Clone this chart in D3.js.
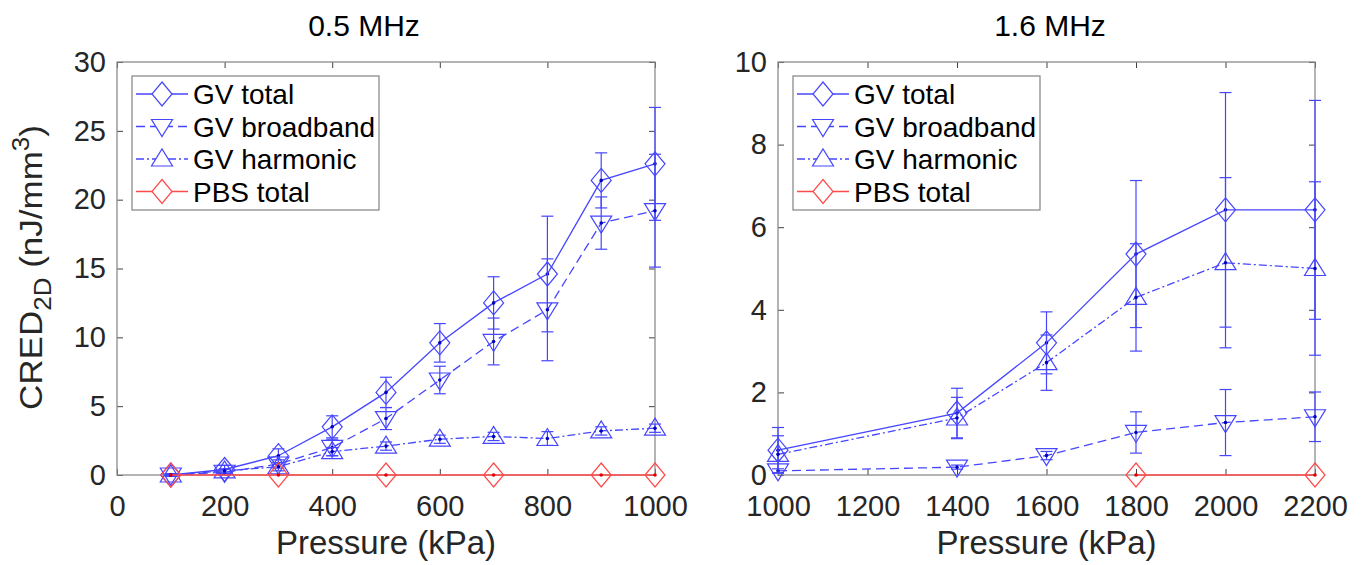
<!DOCTYPE html>
<html>
<head>
<meta charset="utf-8">
<script src="https://cdn.jsdelivr.net/npm/d3@7"></script>
<style>
  body { margin: 0; background: #fff; }
  svg text { font-family: "Liberation Sans", Arial, sans-serif; }
</style>
</head>
<body>
<div class="canvas"></div>
<script>
// data
const pressure05 = [100, 200, 300, 400, 500, 600, 700, 800, 900, 1000];
const total05 = [0, 0.4, 1.4, 3.5, 6.0, 9.6, 12.5, 14.6, 21.4, 22.6];
const total05Err = [0.1, 0.3, 0.5, 0.8, 1.1, 1.4, 1.9, 4.2, 2.0, 4.1];
const broad05 = [0, 0.2, 0.8, 2.0, 4.1, 6.9, 9.7, 12.0, 18.3, 19.2];
const broad05Err = [0.05, 0.2, 0.3, 0.6, 0.8, 1.0, 1.7, 3.7, 1.9, 4.1];
const harm05 = [0, 0.3, 0.6, 1.7, 2.1, 2.6, 2.8, 2.65, 3.2, 3.4];
const harm05Err = [0.05, 0.15, 0.3, 0.3, 0.3, 0.3, 0.3, 0.5, 0.3, 0.3];
const pbsP05 = [100, 300, 500, 700, 900, 1000];
const pbs05 = [0, 0, 0, 0, 0, 0];

const pressure16 = [1000, 1400, 1600, 1800, 2000, 2200];
const total16 = [0.6, 1.5, 3.2, 5.35, 6.42, 6.42];
const total16Err = [0.55, 0.6, 0.75, 1.78, 2.84, 2.65];
const broad16 = [0.1, 0.19, 0.47, 1.03, 1.27, 1.41];
const broad16Err = [0.05, 0.05, 0.1, 0.5, 0.8, 0.6];
const harm16 = [0.5, 1.38, 2.72, 4.3, 5.14, 5.0];
const harm16Err = [0.45, 0.5, 0.67, 1.3, 2.06, 2.1];
const pbsP16 = [1800, 2200];
const pbs16 = [0, 0];

const xTicks05 = [0, 200, 400, 600, 800, 1000];
const yTicks05 = [0, 5, 10, 15, 20, 25, 30];
const xTicks16 = [1000, 1200, 1400, 1600, 1800, 2000, 2200];
const yTicks16 = [0, 2, 4, 6, 8, 10];

const seriesNames = ['GV total', 'GV broadband', 'GV harmonic', 'PBS total'];

const blue = '#4646ff';
const red = '#ff4a4a';
const styles = [
  {color: blue, dash: null, marker: 'diamond', dot: '#0000c0'},
  {color: blue, dash: '9,5', marker: 'down', dot: '#0000c0'},
  {color: blue, dash: '8,3,2,3', marker: 'up', dot: '#0000c0'},
  {color: red, dash: null, marker: 'diamond', dot: '#e00000'}
];

const svg = d3.select('.canvas')
  .append('svg')
    .attr('width', 1364)
    .attr('height', 565);

// marker shapes, centred on the point
function markerPath(type) {
  if (type === 'diamond') return 'M0,-12L10,0L0,12L-10,0Z';
  if (type === 'down') return 'M-10.5,-7L10.5,-7L0,10Z';
  return 'M-10.5,7L10.5,7L0,-10Z';
}

function drawPanel(opt) {
  const w = opt.right - opt.left;
  const h = opt.bottom - opt.top;
  const g = svg.append('g').attr('transform', `translate(${opt.left},${opt.top})`);

  const x = d3.scaleLinear().domain(opt.xDomain).range([0, w]);
  const y = d3.scaleLinear().domain(opt.yDomain).range([h, 0]);

  const style = axis => axis.selectAll('text')
    .attr('fill', '#262626').style('font-size', '29px');

  // bottom / left with labels
  g.append('g').attr('transform', `translate(0,${h})`)
    .call(d3.axisBottom(x).tickValues(opt.xTicks).tickSizeInner(-6).tickSizeOuter(0).tickPadding(20).tickFormat(d3.format('d')))
    .call(style);
  g.append('g')
    .call(d3.axisLeft(y).tickValues(opt.yTicks).tickSizeInner(-6).tickSizeOuter(0).tickPadding(11).tickFormat(d3.format('d')))
    .call(style);
  // mirrored ticks on top / right
  g.append('g')
    .call(d3.axisTop(x).tickValues(opt.xTicks).tickSizeInner(-6).tickSizeOuter(0).tickFormat(''));
  g.append('g').attr('transform', `translate(${w},0)`)
    .call(d3.axisRight(y).tickValues(opt.yTicks).tickSizeInner(-6).tickSizeOuter(0).tickFormat(''));

  g.selectAll('.domain').remove();
  g.selectAll('.tick line').attr('stroke', '#404040');

  g.append('rect')
    .attr('width', w).attr('height', h)
    .attr('fill', 'none').attr('stroke', '#8c8c8c').attr('stroke-width', 1.3);

  const line = d3.line().x(d => x(d.p)).y(d => y(d.v));

  opt.series.forEach((s, i) => {
    const st = styles[i];
    const pts = s.p.map((p, j) => ({p: p, v: s.v[j], e: s.e ? s.e[j] : 0}));
    const sg = g.append('g');

    // error bars
    if (s.e) {
      pts.forEach(d => {
        const cx = x(d.p), y1 = y(d.v + d.e), y2 = y(d.v - d.e);
        sg.append('line').attr('x1', cx).attr('x2', cx).attr('y1', y1).attr('y2', y2)
          .attr('stroke', st.color).attr('stroke-width', 1.2);
        [y1, y2].forEach(yy => {
          sg.append('line').attr('x1', cx - 6).attr('x2', cx + 6).attr('y1', yy).attr('y2', yy)
            .attr('stroke', st.color).attr('stroke-width', 1.2);
        });
      });
    }

    sg.append('path')
      .datum(pts)
      .attr('d', line)
      .attr('fill', 'none')
      .attr('stroke', st.color)
      .attr('stroke-width', 1.3)
      .attr('stroke-dasharray', st.dash);

    sg.selectAll('.mk').data(pts).enter()
      .append('path')
        .attr('d', markerPath(st.marker))
        .attr('transform', d => `translate(${x(d.p)},${y(d.v)})`)
        .attr('fill', 'none')
        .attr('stroke', st.color)
        .attr('stroke-width', 1.2);

    sg.selectAll('.dot').data(pts).enter()
      .append('circle')
        .attr('cx', d => x(d.p)).attr('cy', d => y(d.v))
        .attr('r', 1.8).attr('fill', st.dot);
  });

  // legend
  const lg = g.append('g').attr('transform', 'translate(15,14)');
  lg.append('rect').attr('width', 247).attr('height', 134)
    .attr('fill', '#fff').attr('stroke', '#8c8c8c').attr('stroke-width', 1.3);
  seriesNames.forEach((name, i) => {
    const st = styles[i];
    const ry = 18 + i * 32.5;
    lg.append('line').attr('x1', 4).attr('x2', 56).attr('y1', ry).attr('y2', ry)
      .attr('stroke', st.color).attr('stroke-width', 1.3).attr('stroke-dasharray', st.dash);
    lg.append('path').attr('d', markerPath(st.marker))
      .attr('transform', `translate(30,${ry})`)
      .attr('fill', '#fff').attr('stroke', st.color).attr('stroke-width', 1.2);
    lg.append('text').attr('x', 61).attr('y', ry + 10)
      .style('font-size', '28px').attr('fill', '#000').text(name);
  });

  // title and x label
  svg.append('text')
    .attr('x', opt.titleX).attr('y', 36)
    .attr('text-anchor', 'middle').style('font-size', '30px').text(opt.title);
  svg.append('text')
    .attr('x', opt.left + w / 2).attr('y', 554)
    .attr('text-anchor', 'middle').style('font-size', '33px').attr('fill', '#262626')
    .text('Pressure (kPa)');
}

drawPanel({
  left: 117, right: 655, top: 62, bottom: 475,
  xDomain: [0, 1000], yDomain: [0, 30],
  xTicks: xTicks05, yTicks: yTicks05,
  title: '0.5 MHz', titleX: 364,
  series: [
    {p: pressure05, v: total05, e: total05Err},
    {p: pressure05, v: broad05, e: broad05Err},
    {p: pressure05, v: harm05, e: harm05Err},
    {p: pbsP05, v: pbs05}
  ]
});

drawPanel({
  left: 778, right: 1315, top: 62, bottom: 475,
  xDomain: [1000, 2200], yDomain: [0, 10],
  xTicks: xTicks16, yTicks: yTicks16,
  title: '1.6 MHz', titleX: 1050,
  series: [
    {p: pressure16, v: total16, e: total16Err},
    {p: pressure16, v: broad16, e: broad16Err},
    {p: pressure16, v: harm16, e: harm16Err},
    {p: pbsP16, v: pbs16}
  ]
});

// y label on the left panel (reference glyphs are a bit wider than Arial)
const yl = svg.append('text')
  .attr('transform', 'translate(42,410) rotate(-90) scale(1.13,1)')
  .attr('text-anchor', 'start')
  .attr('fill', '#262626')
  .style('font-size', '31px');
yl.append('tspan').text('CRED');
yl.append('tspan').attr('dy', 9).style('font-size', '23px').text('2D');
yl.append('tspan').attr('dy', -9).text(' (nJ/mm');
yl.append('tspan').attr('dy', -13).style('font-size', '23px').text('3');
yl.append('tspan').attr('dy', 13).text(')');
</script>
</body>
</html>
